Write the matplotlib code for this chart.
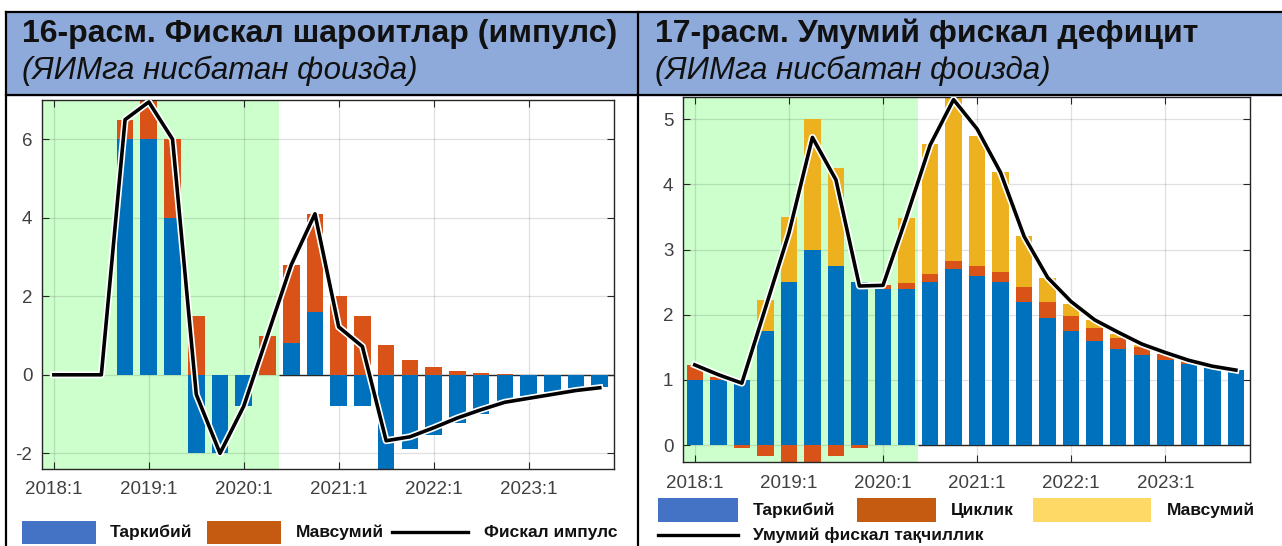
import matplotlib
matplotlib.use("Agg")
import matplotlib.pyplot as plt
import matplotlib.patheffects as pe
from matplotlib.patches import Rectangle
from matplotlib.lines import Line2D
import numpy as np

plt.rcParams['font.family'] = ['Liberation Sans', 'DejaVu Sans']
plt.rcParams['axes.unicode_minus'] = False

# quarters 2018:1 .. 2023:4
quarters = np.arange(24)
tick_pos = [0, 4, 8, 12, 16, 20]
tick_labels = ['2018:1', '2019:1', '2020:1', '2021:1', '2022:1', '2023:1']

# chart 16: fiscal impulse
imp_structural = [0, 0, 0, 6.0, 6.0, 4.0, -2.0, -2.0, -0.8, 0, 0.8, 1.6,
                  -0.8, -0.8, -2.45, -1.9, -1.53, -1.22, -0.99, -0.72, -0.55, -0.45, -0.35, -0.3]
imp_seasonal = [0, 0, 0, 0.5, 1.05, 2.0, 1.5, 0, 0, 1.0, 2.0, 2.5,
                2.0, 1.5, 0.75, 0.37, 0.19, 0.09, 0.05, 0.02, 0, 0, 0, 0]
imp_total = [0, 0, 0, 6.5, 6.95, 6.0, -0.5, -2.0, -0.8, 1.0, 2.8, 4.1,
             1.22, 0.72, -1.68, -1.58, -1.35, -1.1, -0.89, -0.7, -0.6, -0.5, -0.4, -0.33]

# chart 17: overall fiscal deficit
def_structural = [1.0, 1.0, 1.0, 1.75, 2.5, 3.0, 2.75, 2.5, 2.4, 2.4, 2.5, 2.7,
                  2.6, 2.5, 2.2, 1.95, 1.75, 1.6, 1.48, 1.38, 1.3, 1.24, 1.18, 1.15]
def_cyclical = [0.23, 0.05, -0.05, -0.17, -0.3, -0.3, -0.17, -0.05, 0.05, 0.08, 0.12, 0.12,
                0.14, 0.16, 0.22, 0.25, 0.23, 0.2, 0.17, 0.13, 0.1, 0.05, 0.02, 0.0]
def_seasonal = [0, 0, 0, 0.47, 1.0, 2.0, 1.5, 0, 0, 1.0, 2.0, 2.6,
                2.0, 1.53, 0.78, 0.37, 0.18, 0.12, 0.06, 0.03, 0, 0, 0, 0]
def_total = [1.23, 1.08, 0.95, 2.1, 3.25, 4.72, 4.07, 2.44, 2.45, 3.5, 4.6, 5.3,
             4.85, 4.18, 3.2, 2.57, 2.2, 1.92, 1.73, 1.55, 1.42, 1.3, 1.21, 1.15]

BLUE, ORANGE, YELLOW = '#0072BD', '#D95319', '#EDB120'
GREEN = '#CCFFCC'
LEG_BLUE, LEG_ORANGE, LEG_YELLOW = '#4472C4', '#C55A11', '#FFD966'
HEADER = '#8EAADB'
TXT = '#404040'

W, H = 1282, 546
fig = plt.figure(figsize=(W / 100, H / 100), dpi=100)


def fx(px):
    return px / W


def fy(py):
    return 1 - py / H


def stacked(ax, series, colors, width=0.7):
    pos = np.zeros(len(quarters))
    neg = np.zeros(len(quarters))
    for vals, c in zip(series, colors):
        v = np.asarray(vals, dtype=float)
        bottom = np.where(v >= 0, pos, neg)
        ax.bar(quarters, v, width, bottom=bottom, color=c, edgecolor='none', zorder=2)
        pos = pos + np.where(v >= 0, v, 0)
        neg = neg + np.where(v < 0, v, 0)


def style(ax, ylim, yticks):
    ax.axvspan(-0.5, 9.5, color=GREEN, zorder=0.1, lw=0)
    ax.hlines(0, 9.5, 23.6, color='#262626', lw=1, zorder=1.5)
    ax.set_xlim(-0.5, 23.6)
    ax.set_ylim(*ylim)
    ax.set_xticks(tick_pos)
    ax.set_xticklabels(tick_labels)
    ax.set_yticks(yticks)
    ax.grid(True, color='#000000', alpha=0.12, lw=0.9)
    ax.set_axisbelow(True)
    ax.tick_params(direction='in', top=True, right=True, length=5, labelsize=13.5,
                   colors='#262626', labelcolor=TXT)
    ax.tick_params(axis='x', pad=9)
    ax.tick_params(axis='y', pad=7)
    for s in ax.spines.values():
        s.set_color('#262626')
        s.set_linewidth(1.0)


halo = [pe.Stroke(linewidth=5, foreground='white'), pe.Normal()]

ax1 = fig.add_axes([fx(42), fy(469), fx(614) - fx(42), fy(100) - fy(469)])
stacked(ax1, [imp_structural, imp_seasonal], [BLUE, ORANGE])
ax1.plot(quarters, imp_total, color='black', lw=2.6, zorder=3, path_effects=halo)
style(ax1, (-2.4, 7.0), [-2, 0, 2, 4, 6])

ax2 = fig.add_axes([fx(683), fy(462), fx(1250) - fx(683), fy(97) - fy(462)])
stacked(ax2, [def_structural, def_cyclical, def_seasonal], [BLUE, ORANGE, YELLOW])
ax2.plot(quarters, def_total, color='black', lw=2.6, zorder=3, path_effects=halo)
style(ax2, (-0.26, 5.34), [0, 1, 2, 3, 4, 5])

# header band and table lines
fig.add_artist(Rectangle((fx(6), fy(95)), fx(1282) - fx(6), fy(12) - fy(95),
                         transform=fig.transFigure, color=HEADER, zorder=0))
for (x0, y0, x1, y1) in [(6, 12, 1282, 12), (6, 95, 1282, 95), (6, 12, 6, 546), (638, 12, 638, 546)]:
    fig.add_artist(Line2D([fx(x0), fx(x1)], [fy(y0), fy(y1)], transform=fig.transFigure,
                          color='black', lw=1.6, zorder=5))

fig.text(fx(22), fy(34), '16-расм. Фискал шароитлар (импулс)', fontsize=23, fontweight='bold',
         va='center', ha='left', color='#111111')
fig.text(fx(22), fy(71), '(ЯИМга нисбатан фоизда)', fontsize=22.5, style='italic',
         va='center', ha='left', color='#111111')
fig.text(fx(655), fy(34), '17-расм. Умумий фискал дефицит', fontsize=23, fontweight='bold',
         va='center', ha='left', color='#111111')
fig.text(fx(655), fy(71), '(ЯИМга нисбатан фоизда)', fontsize=22.5, style='italic',
         va='center', ha='left', color='#111111')


def leg_patch(x0, x1, yc, color, h=23):
    fig.add_artist(Rectangle((fx(x0), fy(yc + h / 2)), fx(x1) - fx(x0), fy(yc - h / 2) - fy(yc + h / 2),
                             transform=fig.transFigure, color=color, lw=0))


def leg_line(x0, x1, yc):
    fig.add_artist(Line2D([fx(x0), fx(x1)], [fy(yc), fy(yc)], transform=fig.transFigure,
                          color='black', lw=2.4))


def leg_text(x, yc, s):
    fig.text(fx(x), fy(yc), s, fontsize=12.5, fontweight='bold', va='center', ha='left', color='#111111')


# left legend
leg_patch(22, 96, 532, LEG_BLUE)
leg_text(110, 532, 'Таркибий')
leg_patch(207, 281, 532, LEG_ORANGE)
leg_text(296, 532, 'Мавсумий')
leg_line(392, 468, 532)
leg_text(484, 532, 'Фискал импулс')

# right legend
leg_patch(658, 738, 510, LEG_BLUE)
leg_text(753, 510, 'Таркибий')
leg_patch(857, 936, 510, LEG_ORANGE)
leg_text(951, 510, 'Циклик')
leg_patch(1033, 1151, 510, LEG_YELLOW)
leg_text(1167, 510, 'Мавсумий')
leg_line(658, 738, 535)
leg_text(753, 535, 'Умумий фискал тақчиллик')

fig.savefig('out.png', dpi=100)
